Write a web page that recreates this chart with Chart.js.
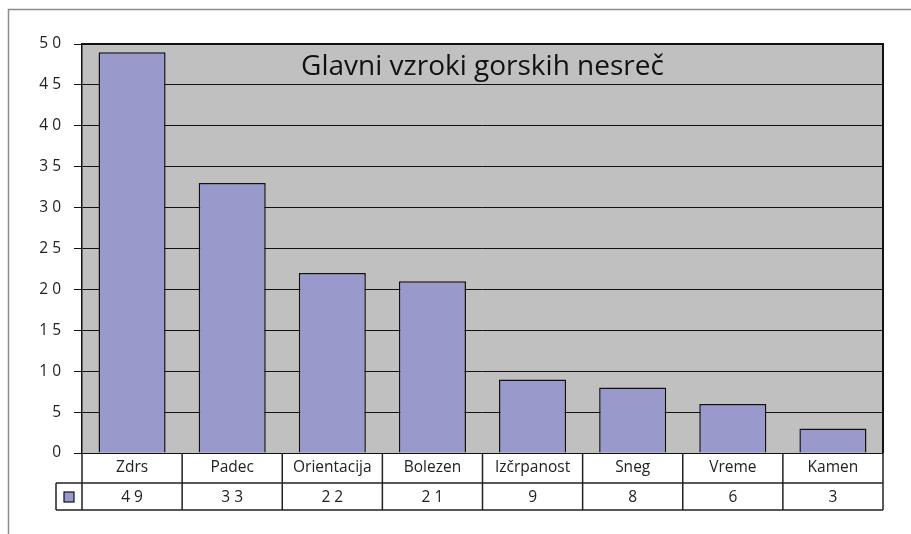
<!DOCTYPE html>
<html>
<head>
<meta charset="utf-8">
<script src="https://cdn.jsdelivr.net/npm/chart.js@4"></script>
<style>
  body { margin: 0; background: #fff; }
  #wrap { width: 911px; height: 534px; position: relative; }
</style>
</head>
<body>
<div id="wrap"><canvas id="bar-chart"></canvas></div>
<script>
const categories = ["Zdrs", "Padec", "Orientacija", "Bolezen", "Izčrpanost", "Sneg", "Vreme", "Kamen"];
const values = [49, 33, 22, 21, 9, 8, 6, 3];
const chartTitle = "Glavni vzroki gorskih nesreč";
const barColor = "#9999cc";

// spaced digits like the original (e.g. "4 9")
const spaced = v => String(v).split("").join(" ");

const plotBox = {
    id: "plotBox",
    beforeDraw(chart) {
        const { ctx, chartArea: a } = chart;
        ctx.save();
        // outer frame
        ctx.strokeStyle = "#8c8c8c";
        ctx.lineWidth = 1.5;
        ctx.beginPath();
        ctx.moveTo(8.5, 534);
        ctx.lineTo(8.5, 9.5);
        ctx.lineTo(911, 9.5);
        ctx.stroke();
        // grey plot area
        ctx.fillStyle = "#c0c0c0";
        ctx.fillRect(a.left, a.top, a.right - a.left, a.bottom - a.top);
        ctx.restore();
    },
    afterDraw(chart) {
        const { ctx, chartArea: a } = chart;
        const x = chart.scales.x;
        ctx.save();
        ctx.strokeStyle = "#111";
        ctx.lineWidth = 2;
        ctx.beginPath();
        ctx.moveTo(a.left, a.top);
        ctx.lineTo(a.right, a.top);
        ctx.lineTo(a.right, a.bottom);
        ctx.stroke();

        // title
        ctx.fillStyle = "#111";
        ctx.font = "28px 'Open Sans'";
        ctx.textAlign = "center";
        ctx.textBaseline = "alphabetic";
        ctx.fillText(chartTitle, (a.left + a.right) / 2, a.top + 31);

        // data table
        const step = (x.right - x.left) / categories.length;
        const r1 = a.bottom, r2 = a.bottom + 30, r3 = a.bottom + 57;
        const keyLeft = a.left - 26;
        ctx.strokeStyle = "#222";
        ctx.lineWidth = 1.5;
        ctx.beginPath();
        ctx.moveTo(keyLeft, r2); ctx.lineTo(x.right, r2);
        ctx.moveTo(keyLeft, r3); ctx.lineTo(x.right, r3);
        ctx.moveTo(keyLeft, r2); ctx.lineTo(keyLeft, r3);
        for (let i = 0; i <= categories.length; i++) {
            const bx = x.left + step * i;
            ctx.moveTo(bx, r1); ctx.lineTo(bx, r3);
        }
        ctx.stroke();

        ctx.fillStyle = "#222";
        ctx.font = "15.5px 'Open Sans'";
        ctx.textBaseline = "middle";
        categories.forEach((c, i) => {
            const cx = x.getPixelForValue(i);
            ctx.fillText(c, cx, (r1 + r2) / 2);
            ctx.fillText(spaced(values[i]), cx, (r2 + r3) / 2 + 1);
        });

        // legend key
        ctx.fillStyle = barColor;
        ctx.fillRect(keyLeft + 8, r2 + 9, 10, 10);
        ctx.lineWidth = 1.2;
        ctx.strokeStyle = "#111";
        ctx.strokeRect(keyLeft + 8, r2 + 9, 10, 10);
        ctx.restore();
    }
};

const ctx = document.getElementById("bar-chart");

let chartGraph = new Chart(ctx, {
    type: "bar",
    data: {
        labels: categories,
        datasets: [{
            label: chartTitle,
            data: values,
            backgroundColor: barColor,
            borderColor: "#111",
            borderWidth: 1.5,
            barPercentage: 0.67,
            categoryPercentage: 1,
        }]
    },
    options: {
        responsive: true,
        maintainAspectRatio: false,
        animation: false,
        layout: { padding: { left: 0, top: 44, right: 28, bottom: 81 } },
        plugins: {
            legend: { display: false },
            title: { display: false },
            tooltip: { enabled: false },
        },
        scales: {
            x: { display: false },
            y: {
                min: 0,
                max: 50,
                afterFit: scale => { scale.width = 82; },
                ticks: {
                    stepSize: 5,
                    padding: 13,
                    color: "#222",
                    font: { family: "'Open Sans'", size: 15.5 },
                    callback: v => spaced(v),
                },
                grid: { color: "#111", lineWidth: 1, tickLength: 8, drawTicks: true },
                border: { color: "#111", width: 1.5 },
            }
        }
    },
    plugins: [plotBox]
});
</script>
</body>
</html>
